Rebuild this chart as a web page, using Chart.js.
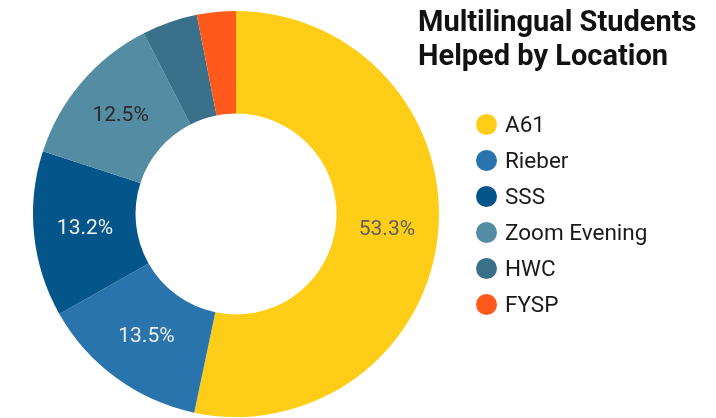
<!DOCTYPE html>
<html>
<head>
<meta charset="utf-8">
<script src="https://cdn.jsdelivr.net/npm/chart.js@4.4.1/dist/chart.umd.min.js"></script>
<style>
  html, body { margin: 0; padding: 0; background: #fff; }
  #wrap { position: relative; width: 716px; height: 418px; overflow: hidden; font-family: Roboto, sans-serif; }
  #chart { position: absolute; left: 0; top: 0; }
  #title { position: absolute; left: 418px; top: 4px; font-size: 29px; line-height: 34px; font-weight: 700; color: #111; }
  #legend { position: absolute; left: 476px; top: 106px; }
  .item { height: 36px; display: flex; align-items: center; font-size: 22.5px; color: #1a1a1a; }
  .dot { width: 21px; height: 21px; border-radius: 50%; margin-right: 8px; flex: none; }
</style>
</head>
<body>
<div id="wrap">
  <canvas id="chart" width="716" height="418"></canvas>
  <div id="title">Multilingual Students<br>Helped by Location</div>
  <div id="legend"></div>
</div>
<script>
const locations = ['A61', 'Rieber', 'SSS', 'Zoom Evening', 'HWC', 'FYSP'];
const percents = [53.3, 13.5, 13.2, 12.5, 4.4, 3.1];
const sliceColors = ['#FECD17', '#2A74AD', '#03558A', '#538CA3', '#3A7089', '#FF5A1B'];
const labelColors = ['#5e5e5e', '#eeeeee', '#eeeeee', '#2b2b2b', '#eeeeee', '#eeeeee'];

// percent labels inside the bigger slices
const sliceLabels = {
  id: 'sliceLabels',
  afterDatasetsDraw(chart) {
    const ctx = chart.ctx;
    const meta = chart.getDatasetMeta(0);
    ctx.save();
    ctx.font = '21px Roboto';
    ctx.textAlign = 'center';
    ctx.textBaseline = 'middle';
    meta.data.forEach((arc, i) => {
      if (percents[i] < 6) return;
      const pos = arc.tooltipPosition();
      ctx.fillStyle = labelColors[i];
      ctx.fillText(percents[i].toFixed(1) + '%', pos.x, pos.y);
    });
    ctx.restore();
  }
};

new Chart(document.getElementById('chart'), {
  type: 'doughnut',
  data: {
    labels: locations,
    datasets: [{
      data: percents,
      backgroundColor: sliceColors,
      borderWidth: 0
    }]
  },
  options: {
    responsive: false,
    animation: false,
    cutout: '49.5%',
    layout: { padding: { left: 33, right: 277, top: 11, bottom: 1 } },
    plugins: {
      legend: { display: false },
      tooltip: { enabled: false }
    }
  },
  plugins: [sliceLabels]
});

const legend = document.getElementById('legend');
locations.forEach((name, i) => {
  const row = document.createElement('div');
  row.className = 'item';
  const dot = document.createElement('span');
  dot.className = 'dot';
  dot.style.background = sliceColors[i];
  row.appendChild(dot);
  row.appendChild(document.createTextNode(name));
  legend.appendChild(row);
});
</script>
</body>
</html>
